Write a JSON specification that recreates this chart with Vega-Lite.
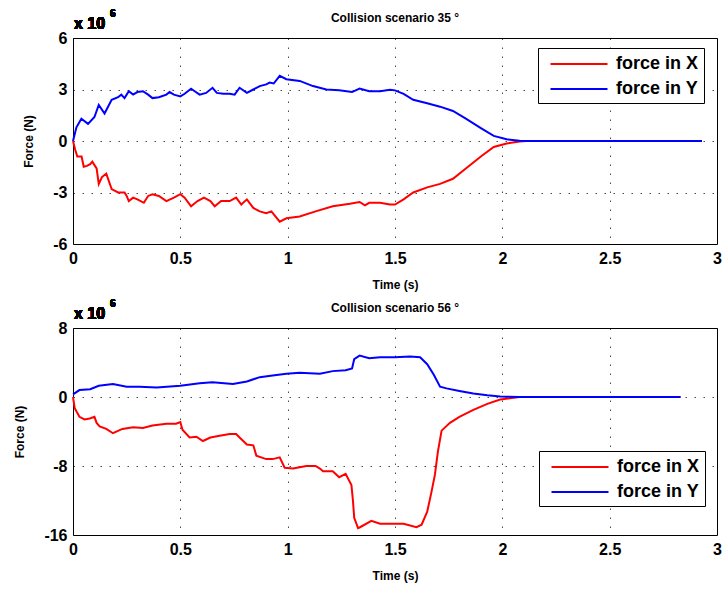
{
  "$schema": "https://vega.github.io/schema/vega-lite/v6.json",
  "background": "white",
  "padding": {"left": 13, "top": 8, "right": 5, "bottom": 5},
  "datasets": {
    "s35": [
      {"t":0,"f":0,"s":"force in X"},{"t":0.01,"f":-0.5,"s":"force in X"},{"t":0.02,"f":-0.9,"s":"force in X"},{"t":0.04,"f":-0.9,"s":"force in X"},{"t":0.05,"f":-1.5,"s":"force in X"},{"t":0.065,"f":-1.45,"s":"force in X"},{"t":0.08,"f":-1.35,"s":"force in X"},{"t":0.09,"f":-1.2,"s":"force in X"},{"t":0.11,"f":-1.6,"s":"force in X"},{"t":0.12,"f":-2.5,"s":"force in X"},{"t":0.135,"f":-2.1,"s":"force in X"},{"t":0.155,"f":-1.9,"s":"force in X"},{"t":0.18,"f":-2.8,"s":"force in X"},{"t":0.21,"f":-3.0,"s":"force in X"},{"t":0.24,"f":-3.0,"s":"force in X"},{"t":0.25,"f":-3.2,"s":"force in X"},{"t":0.26,"f":-3.5,"s":"force in X"},{"t":0.28,"f":-3.3,"s":"force in X"},{"t":0.30,"f":-3.4,"s":"force in X"},{"t":0.33,"f":-3.6,"s":"force in X"},{"t":0.35,"f":-3.2,"s":"force in X"},{"t":0.37,"f":-3.1,"s":"force in X"},{"t":0.40,"f":-3.2,"s":"force in X"},{"t":0.435,"f":-3.5,"s":"force in X"},{"t":0.47,"f":-3.3,"s":"force in X"},{"t":0.5,"f":-3.1,"s":"force in X"},{"t":0.52,"f":-3.3,"s":"force in X"},{"t":0.55,"f":-3.8,"s":"force in X"},{"t":0.58,"f":-3.5,"s":"force in X"},{"t":0.61,"f":-3.3,"s":"force in X"},{"t":0.64,"f":-3.5,"s":"force in X"},{"t":0.66,"f":-3.8,"s":"force in X"},{"t":0.69,"f":-3.5,"s":"force in X"},{"t":0.73,"f":-3.5,"s":"force in X"},{"t":0.76,"f":-3.3,"s":"force in X"},{"t":0.784,"f":-3.7,"s":"force in X"},{"t":0.81,"f":-3.4,"s":"force in X"},{"t":0.84,"f":-3.9,"s":"force in X"},{"t":0.87,"f":-4.1,"s":"force in X"},{"t":0.90,"f":-4.2,"s":"force in X"},{"t":0.924,"f":-4.1,"s":"force in X"},{"t":0.963,"f":-4.7,"s":"force in X"},{"t":0.994,"f":-4.5,"s":"force in X"},{"t":1.056,"f":-4.4,"s":"force in X"},{"t":1.13,"f":-4.1,"s":"force in X"},{"t":1.21,"f":-3.8,"s":"force in X"},{"t":1.29,"f":-3.65,"s":"force in X"},{"t":1.335,"f":-3.55,"s":"force in X"},{"t":1.36,"f":-3.75,"s":"force in X"},{"t":1.38,"f":-3.6,"s":"force in X"},{"t":1.43,"f":-3.6,"s":"force in X"},{"t":1.477,"f":-3.7,"s":"force in X"},{"t":1.5,"f":-3.7,"s":"force in X"},{"t":1.54,"f":-3.4,"s":"force in X"},{"t":1.585,"f":-3.0,"s":"force in X"},{"t":1.65,"f":-2.7,"s":"force in X"},{"t":1.71,"f":-2.5,"s":"force in X"},{"t":1.77,"f":-2.2,"s":"force in X"},{"t":1.83,"f":-1.6,"s":"force in X"},{"t":1.9,"f":-0.9,"s":"force in X"},{"t":1.96,"f":-0.35,"s":"force in X"},{"t":2.02,"f":-0.15,"s":"force in X"},{"t":2.08,"f":-0.03,"s":"force in X"},{"t":2.11,"f":0,"s":"force in X"},{"t":2.93,"f":0,"s":"force in X"},
      {"t":0,"f":0,"s":"force in Y"},{"t":0.016,"f":0.8,"s":"force in Y"},{"t":0.039,"f":1.3,"s":"force in Y"},{"t":0.07,"f":1.0,"s":"force in Y"},{"t":0.1,"f":1.4,"s":"force in Y"},{"t":0.12,"f":2.1,"s":"force in Y"},{"t":0.147,"f":1.6,"s":"force in Y"},{"t":0.18,"f":2.4,"s":"force in Y"},{"t":0.21,"f":2.55,"s":"force in Y"},{"t":0.225,"f":2.7,"s":"force in Y"},{"t":0.24,"f":2.5,"s":"force in Y"},{"t":0.26,"f":2.9,"s":"force in Y"},{"t":0.28,"f":2.7,"s":"force in Y"},{"t":0.30,"f":2.85,"s":"force in Y"},{"t":0.326,"f":2.9,"s":"force in Y"},{"t":0.35,"f":2.7,"s":"force in Y"},{"t":0.37,"f":2.5,"s":"force in Y"},{"t":0.40,"f":2.55,"s":"force in Y"},{"t":0.435,"f":2.7,"s":"force in Y"},{"t":0.45,"f":2.85,"s":"force in Y"},{"t":0.47,"f":2.7,"s":"force in Y"},{"t":0.5,"f":2.6,"s":"force in Y"},{"t":0.52,"f":2.75,"s":"force in Y"},{"t":0.55,"f":3.05,"s":"force in Y"},{"t":0.567,"f":2.9,"s":"force in Y"},{"t":0.59,"f":2.7,"s":"force in Y"},{"t":0.62,"f":2.8,"s":"force in Y"},{"t":0.65,"f":3.1,"s":"force in Y"},{"t":0.67,"f":2.8,"s":"force in Y"},{"t":0.70,"f":2.75,"s":"force in Y"},{"t":0.73,"f":2.75,"s":"force in Y"},{"t":0.753,"f":2.7,"s":"force in Y"},{"t":0.776,"f":3.1,"s":"force in Y"},{"t":0.81,"f":2.8,"s":"force in Y"},{"t":0.84,"f":3.0,"s":"force in Y"},{"t":0.87,"f":3.2,"s":"force in Y"},{"t":0.90,"f":3.3,"s":"force in Y"},{"t":0.916,"f":3.4,"s":"force in Y"},{"t":0.935,"f":3.35,"s":"force in Y"},{"t":0.963,"f":3.8,"s":"force in Y"},{"t":0.994,"f":3.6,"s":"force in Y"},{"t":1.056,"f":3.5,"s":"force in Y"},{"t":1.118,"f":3.2,"s":"force in Y"},{"t":1.18,"f":3.0,"s":"force in Y"},{"t":1.24,"f":2.95,"s":"force in Y"},{"t":1.30,"f":2.85,"s":"force in Y"},{"t":1.335,"f":3.05,"s":"force in Y"},{"t":1.38,"f":2.9,"s":"force in Y"},{"t":1.43,"f":2.9,"s":"force in Y"},{"t":1.477,"f":2.98,"s":"force in Y"},{"t":1.5,"f":2.95,"s":"force in Y"},{"t":1.54,"f":2.75,"s":"force in Y"},{"t":1.585,"f":2.4,"s":"force in Y"},{"t":1.65,"f":2.2,"s":"force in Y"},{"t":1.71,"f":2.0,"s":"force in Y"},{"t":1.77,"f":1.75,"s":"force in Y"},{"t":1.83,"f":1.3,"s":"force in Y"},{"t":1.9,"f":0.75,"s":"force in Y"},{"t":1.96,"f":0.3,"s":"force in Y"},{"t":2.02,"f":0.1,"s":"force in Y"},{"t":2.08,"f":0.02,"s":"force in Y"},{"t":2.11,"f":0,"s":"force in Y"},{"t":2.93,"f":0,"s":"force in Y"}
    ],
    "s56": [
      {"t":0,"f":0,"s":"force in X"},{"t":0.008,"f":-1.3,"s":"force in X"},{"t":0.03,"f":-2.3,"s":"force in X"},{"t":0.054,"f":-2.6,"s":"force in X"},{"t":0.078,"f":-2.5,"s":"force in X"},{"t":0.1,"f":-2.3,"s":"force in X"},{"t":0.11,"f":-3.0,"s":"force in X"},{"t":0.124,"f":-3.4,"s":"force in X"},{"t":0.155,"f":-3.7,"s":"force in X"},{"t":0.186,"f":-4.2,"s":"force in X"},{"t":0.23,"f":-3.7,"s":"force in X"},{"t":0.28,"f":-3.5,"s":"force in X"},{"t":0.326,"f":-3.6,"s":"force in X"},{"t":0.37,"f":-3.3,"s":"force in X"},{"t":0.435,"f":-3.1,"s":"force in X"},{"t":0.48,"f":-3.1,"s":"force in X"},{"t":0.5,"f":-2.9,"s":"force in X"},{"t":0.51,"f":-3.8,"s":"force in X"},{"t":0.543,"f":-4.7,"s":"force in X"},{"t":0.575,"f":-4.6,"s":"force in X"},{"t":0.605,"f":-5.1,"s":"force in X"},{"t":0.64,"f":-4.7,"s":"force in X"},{"t":0.683,"f":-4.5,"s":"force in X"},{"t":0.73,"f":-4.3,"s":"force in X"},{"t":0.76,"f":-4.3,"s":"force in X"},{"t":0.776,"f":-4.7,"s":"force in X"},{"t":0.81,"f":-5.5,"s":"force in X"},{"t":0.84,"f":-5.6,"s":"force in X"},{"t":0.854,"f":-6.8,"s":"force in X"},{"t":0.9,"f":-7.2,"s":"force in X"},{"t":0.93,"f":-7.2,"s":"force in X"},{"t":0.963,"f":-7.0,"s":"force in X"},{"t":0.986,"f":-8.2,"s":"force in X"},{"t":1.025,"f":-8.3,"s":"force in X"},{"t":1.087,"f":-8.0,"s":"force in X"},{"t":1.13,"f":-8.0,"s":"force in X"},{"t":1.15,"f":-8.3,"s":"force in X"},{"t":1.165,"f":-8.6,"s":"force in X"},{"t":1.21,"f":-8.6,"s":"force in X"},{"t":1.24,"f":-9.3,"s":"force in X"},{"t":1.27,"f":-8.9,"s":"force in X"},{"t":1.297,"f":-10.2,"s":"force in X"},{"t":1.304,"f":-12,"s":"force in X"},{"t":1.31,"f":-14,"s":"force in X"},{"t":1.328,"f":-15.2,"s":"force in X"},{"t":1.337,"f":-15.1,"s":"force in X"},{"t":1.39,"f":-14.35,"s":"force in X"},{"t":1.43,"f":-14.7,"s":"force in X"},{"t":1.5,"f":-14.7,"s":"force in X"},{"t":1.54,"f":-14.7,"s":"force in X"},{"t":1.6,"f":-15.1,"s":"force in X"},{"t":1.624,"f":-14.8,"s":"force in X"},{"t":1.65,"f":-13.3,"s":"force in X"},{"t":1.67,"f":-11.0,"s":"force in X"},{"t":1.686,"f":-9.0,"s":"force in X"},{"t":1.7,"f":-6.3,"s":"force in X"},{"t":1.717,"f":-3.9,"s":"force in X"},{"t":1.756,"f":-3.0,"s":"force in X"},{"t":1.8,"f":-2.3,"s":"force in X"},{"t":1.865,"f":-1.5,"s":"force in X"},{"t":1.93,"f":-0.8,"s":"force in X"},{"t":1.99,"f":-0.3,"s":"force in X"},{"t":2.08,"f":0,"s":"force in X"},{"t":2.83,"f":0,"s":"force in X"},
      {"t":0,"f":0.3,"s":"force in Y"},{"t":0.03,"f":0.8,"s":"force in Y"},{"t":0.08,"f":0.9,"s":"force in Y"},{"t":0.12,"f":1.3,"s":"force in Y"},{"t":0.186,"f":1.5,"s":"force in Y"},{"t":0.25,"f":1.2,"s":"force in Y"},{"t":0.31,"f":1.2,"s":"force in Y"},{"t":0.39,"f":1.1,"s":"force in Y"},{"t":0.5,"f":1.3,"s":"force in Y"},{"t":0.59,"f":1.6,"s":"force in Y"},{"t":0.65,"f":1.7,"s":"force in Y"},{"t":0.745,"f":1.5,"s":"force in Y"},{"t":0.81,"f":1.8,"s":"force in Y"},{"t":0.87,"f":2.3,"s":"force in Y"},{"t":0.93,"f":2.5,"s":"force in Y"},{"t":0.994,"f":2.7,"s":"force in Y"},{"t":1.056,"f":2.8,"s":"force in Y"},{"t":1.15,"f":2.7,"s":"force in Y"},{"t":1.21,"f":3.0,"s":"force in Y"},{"t":1.27,"f":3.1,"s":"force in Y"},{"t":1.3,"f":3.3,"s":"force in Y"},{"t":1.31,"f":4.4,"s":"force in Y"},{"t":1.335,"f":4.8,"s":"force in Y"},{"t":1.38,"f":4.5,"s":"force in Y"},{"t":1.43,"f":4.6,"s":"force in Y"},{"t":1.5,"f":4.6,"s":"force in Y"},{"t":1.57,"f":4.7,"s":"force in Y"},{"t":1.617,"f":4.6,"s":"force in Y"},{"t":1.65,"f":3.8,"s":"force in Y"},{"t":1.68,"f":2.6,"s":"force in Y"},{"t":1.71,"f":1.2,"s":"force in Y"},{"t":1.74,"f":1.0,"s":"force in Y"},{"t":1.8,"f":0.7,"s":"force in Y"},{"t":1.865,"f":0.4,"s":"force in Y"},{"t":1.93,"f":0.2,"s":"force in Y"},{"t":1.99,"f":0.05,"s":"force in Y"},{"t":2.08,"f":0,"s":"force in Y"},{"t":2.83,"f":0,"s":"force in Y"}
    ]
  },
  "config": {
    "font": "Liberation Sans",
    "view": {"stroke": "black", "strokeWidth": 1},
    "axis": {
      "labelFont": "Liberation Sans", "labelFontWeight": "bold", "labelFontSize": 16, "labelColor": "black",
      "titleFont": "Liberation Sans", "titleFontWeight": "bold", "titleFontSize": 12, "titleColor": "black",
      "ticks": false, "domain": false, "grid": true, "gridColor": "black", "gridOpacity": 0.7, "gridDash": [1.5, 7.5],
      "labelPadding": 6, "labelFlush": false, "labelOverlap": false,
      "labelExpr": "datum.value + ''"
    },
    "axisX": {"titlePadding": 13},
    "axisY": {"titlePadding": 17},
    "title": {"font": "Liberation Sans", "fontSize": 12, "fontWeight": "bold", "color": "black", "offset": -16},
    "legend": {
      "orient": "none", "title": null, "strokeColor": "black", "fillColor": "white", "padding": 5,
      "labelFont": "Liberation Sans", "labelFontSize": 18, "labelFontWeight": "bold", "labelColor": "black",
      "symbolType": "M-2.85,0H2.85", "symbolSize": 400, "symbolStrokeWidth": 2, "symbolOffset": 25, "labelOffset": 26, "rowPadding": 5
    }
  },
  "spacing": 7,
  "resolve": {"legend": {"color": "independent"}, "scale": {"y": "independent"}},
  "vconcat": [
    {
      "title": "Collision scenario 35 °",
      "width": 644, "height": 206,
      "data": {"name": "s35"},
      "layer": [
        {
          "mark": {"type": "line", "strokeWidth": 2, "interpolate": "linear"},
          "encoding": {
            "x": {"field": "t", "type": "quantitative", "title": "Time (s)", "scale": {"domain": [0, 3], "nice": false}, "axis": {"values": [0, 0.5, 1, 1.5, 2, 2.5, 3]}},
            "y": {"field": "f", "type": "quantitative", "title": "Force (N)", "scale": {"domain": [-6, 6], "nice": false}, "axis": {"values": [-6, -3, 0, 3, 6]}},
            "color": {"field": "s", "type": "nominal", "scale": {"domain": ["force in X", "force in Y"], "range": ["#ff0000", "#0000ff"]}, "legend": {"legendX": 465, "legendY": 10}}
          }
        },
        {
          "mark": {"type": "text", "text": "x 10", "align": "left", "baseline": "alphabetic", "dx": 1, "dy": -9, "fontSize": 16, "fontWeight": "bold", "font": "Liberation Sans", "color": "black"},
          "encoding": {"x": {"datum": 0, "type": "quantitative"}, "y": {"datum": 6, "type": "quantitative"}}
        },
        {
          "mark": {"type": "text", "text": "6", "align": "left", "baseline": "alphabetic", "dx": 37, "dy": -21, "fontSize": 10, "fontWeight": "bold", "font": "Liberation Sans", "color": "black"},
          "encoding": {"x": {"datum": 0, "type": "quantitative"}, "y": {"datum": 6, "type": "quantitative"}}
        }
      ]
    },
    {
      "title": "Collision scenario 56 °",
      "width": 644, "height": 207,
      "data": {"name": "s56"},
      "layer": [
        {
          "mark": {"type": "line", "strokeWidth": 2, "interpolate": "linear"},
          "encoding": {
            "x": {"field": "t", "type": "quantitative", "title": "Time (s)", "scale": {"domain": [0, 3], "nice": false}, "axis": {"values": [0, 0.5, 1, 1.5, 2, 2.5, 3]}},
            "y": {"field": "f", "type": "quantitative", "title": "Force (N)", "scale": {"domain": [-16, 8], "nice": false}, "axis": {"values": [-16, -8, 0, 8]}},
            "color": {"field": "s", "type": "nominal", "scale": {"domain": ["force in X", "force in Y"], "range": ["#ff0000", "#0000ff"]}, "legend": {"legendX": 466, "legendY": 123}}
          }
        },
        {
          "mark": {"type": "text", "text": "x 10", "align": "left", "baseline": "alphabetic", "dx": 1, "dy": -9, "fontSize": 16, "fontWeight": "bold", "font": "Liberation Sans", "color": "black"},
          "encoding": {"x": {"datum": 0, "type": "quantitative"}, "y": {"datum": 8, "type": "quantitative"}}
        },
        {
          "mark": {"type": "text", "text": "6", "align": "left", "baseline": "alphabetic", "dx": 37, "dy": -21, "fontSize": 10, "fontWeight": "bold", "font": "Liberation Sans", "color": "black"},
          "encoding": {"x": {"datum": 0, "type": "quantitative"}, "y": {"datum": 8, "type": "quantitative"}}
        }
      ]
    }
  ]
}
